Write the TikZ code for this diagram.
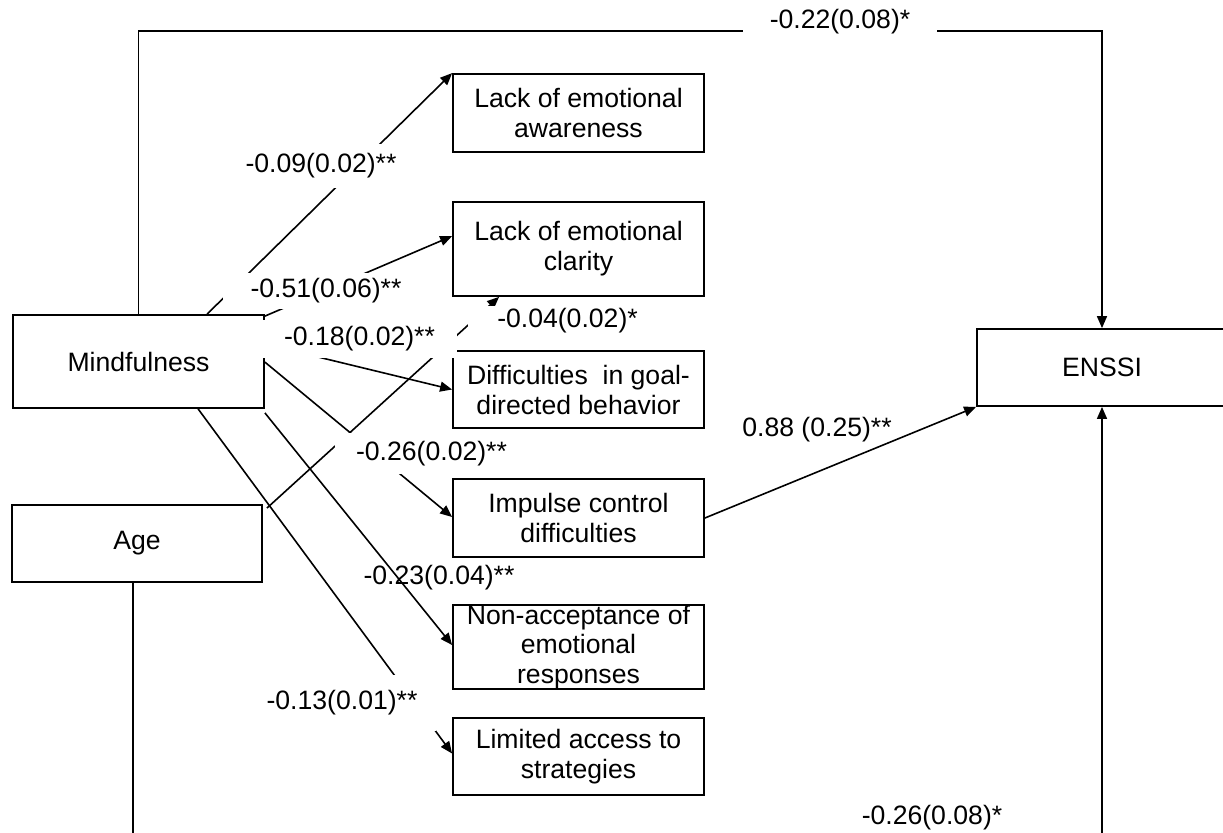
\documentclass[tikz,border=0pt]{standalone}
\usepackage{fontspec}
\setmainfont{Liberation Sans}
\usetikzlibrary{arrows.meta,calc}
\begin{document}
\begin{tikzpicture}[x=0.5pt,y=-0.5pt,
  every node/.style={font=\fontsize{13.3}{15}\selectfont},
  box/.style={draw, line width=0.9pt, align=center, inner sep=0pt,
    minimum width=125.5pt, minimum height=39pt},
  link/.style={line width=0.8pt},
  arr/.style={link, -{Triangle[length=6pt,width=5pt]}},
  lab/.style={fill=white, inner sep=0pt}
]
\useasboundingbox (0,0) rectangle (1223,832);
\clip (0,0) rectangle (1223,832);

% boxes
\node[box, minimum height=46.5pt] (M) at (138.5,361.5) {Mindfulness};
\node[box, minimum width=125pt, minimum height=38.5pt] (A) at (137,543.5) {Age};
\node[box] (LA) at (578.5,113) {Lack of emotional\\awareness};
\node[box, minimum height=47pt] (LC) at (578.5,249) {Lack of emotional\\clarity};
\node[box, minimum height=38.5pt] (DG) at (578.5,389.5) {Difficulties\ \ in goal-\\directed behavior};
\node[box] (IC) at (578.5,518) {Impulse control\\difficulties};
\node[box, font=\fontsize{13.3}{14.8}\selectfont] (NA) at (578.5,647) {Non-acceptance of\\emotional\\responses};
\node[box, minimum height=38.5pt] (LL) at (578.5,756.5) {Limited access to\\strategies};
\node[box, minimum width=125pt, minimum height=38.5pt] (E) at (1102,367.5) {ENSSI};

% connectors
\draw[arr] ($(M.north west)+(195,0)$) -- (LA.north west);
\draw[arr] ($(M.north east)+(0,2)$) -- ($(LC.north west)+(0,35)$);
\draw[arr] ($(A.north east)+(4,4)$) -- ($(LC.south west)+(47,0)$);
\draw[arr] ($(M.north east)+(0,30)$) -- (DG.west);
\draw[arr] ($(M.north east)+(0,48)$) -- ($(IC.west)+(0,-1)$);
\draw[arr] ($(M.south east)+(0,4)$) -- ($(NA.west)+(0,-2)$);
\draw[arr] ($(M.south west)+(186,0)$) -- ($(LL.west)+(0,-3)$);
\draw[arr] (M.north) |- ($(E.north)+(0,-297)$) -- (E.north);
\draw[arr] (IC.east) -- (E.south west);
\draw[arr] ($(A.south)+(-4,0)$) |- ($(E.south)+(0,444)$) -- (E.south);

% labels
\node[lab, minimum width=97pt, minimum height=18pt] (l22) at (840,22) {-0.22(0.08)*};
\node[lab, minimum width=103pt, minimum height=22pt] (l09) at (321,166) {-0.09(0.02)**};
\node[lab, minimum width=103pt, minimum height=18pt] (l51) at (326,291) {-0.51(0.06)**};
\node[lab, minimum width=97.5pt, minimum height=19pt] (l18) at (359.5,339) {-0.18(0.02)**};
\node[lab, minimum width=100pt, minimum height=14.5pt] (l04) at (567.5,320.5) {-0.04(0.02)*};
\node[lab, minimum width=96.5pt, minimum height=20.5pt] (l26) at (431.5,453.5) {-0.26(0.02)**};
\node[inner sep=0pt] (l23) at (439,578) {-0.23(0.04)**};
\node[lab, minimum width=94pt, minimum height=28pt] (l13) at (342,703) {-0.13(0.01)**};
\node[inner sep=0pt] (l88) at (817,430) {0.88 (0.25)**};
\node[lab] (l2608) at (932,818) {-0.26(0.08)*};
\end{tikzpicture}
\end{document}
